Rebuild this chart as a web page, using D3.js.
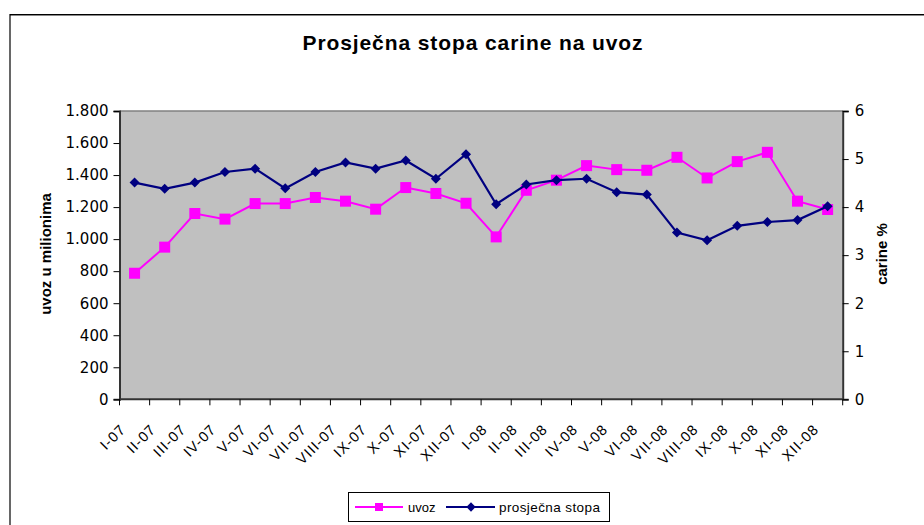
<html>
<head>
  <meta charset="utf-8">
  <title>Prosječna stopa carine na uvoz</title>
  <script src="https://d3js.org/d3.v7.min.js"></script>
  <style>
    body { margin: 0; background: #fff; }
    svg text { font-family: Arial, "Liberation Sans", sans-serif; }
    .tick-num { font-family: "DejaVu Sans", Verdana, sans-serif; font-size: 15px; fill: #000; }
  </style>
</head>
<body>
<script>
  // months on the x axis
  var months = ["I-07","II-07","III-07","IV-07","V-07","VI-07","VII-07","VIII-07","IX-07","X-07","XI-07","XII-07",
                "I-08","II-08","III-08","IV-08","V-08","VI-08","VII-08","VIII-08","IX-08","X-08","XI-08","XII-08"];
  // uvoz, in millions
  var uvoz = [787, 950, 1160, 1125, 1222, 1222, 1260, 1237, 1187, 1322, 1285, 1224,
              1014, 1305, 1368, 1459, 1434, 1430, 1511, 1382, 1484, 1542, 1237, 1185];
  // prosjecna stopa carine, %
  var stopa = [4.51, 4.38, 4.51, 4.73, 4.80, 4.39, 4.73, 4.93, 4.80, 4.97, 4.59, 5.10,
               4.06, 4.47, 4.56, 4.59, 4.31, 4.26, 3.47, 3.31, 3.61, 3.69, 3.73, 4.02];
  var leftTicks = [0, 200, 400, 600, 800, 1000, 1200, 1400, 1600, 1800];
  var rightTicks = [0, 1, 2, 3, 4, 5, 6];

  var width = 924, height = 525;
  var svg = d3.select("body").append("svg")
    .attr("width", width)
    .attr("height", height);

  // outer chart frame (only top and left visible)
  svg.append("line").attr("x1", 10).attr("x2", width).attr("y1", 15.5).attr("y2", 15.5)
    .attr("stroke", "#888").attr("stroke-width", 1);
  svg.append("line").attr("x1", 10).attr("x2", width).attr("y1", 14.5).attr("y2", 14.5)
    .attr("stroke", "#000").attr("stroke-width", 1);
  svg.append("line").attr("x1", 10).attr("x2", 10).attr("y1", 14).attr("y2", height)
    .attr("stroke", "#000").attr("stroke-width", 1.2);

  var pLeft = 119.5, pRight = 842.7, pTop = 111, pBottom = 399.3;

  var x = d3.scaleBand().domain(months).range([pLeft, pRight]);
  var yL = d3.scaleLinear().domain([0, 1800]).range([pBottom, pTop]);
  var yR = d3.scaleLinear().domain([0, 6]).range([pBottom, pTop]);

  // plot area
  svg.append("rect")
    .attr("x", pLeft).attr("y", pTop)
    .attr("width", pRight - pLeft).attr("height", pBottom - pTop)
    .attr("fill", "#c0c0c0");
  svg.append("line").attr("x1", pLeft).attr("x2", pRight).attr("y1", pTop).attr("y2", pTop)
    .attr("stroke", "#808080").attr("stroke-width", 1.5);

  // title
  svg.append("text")
    .attr("x", 473).attr("y", 50)
    .attr("text-anchor", "middle")
    .attr("font-size", "21px").attr("font-weight", "bold")
    .attr("letter-spacing", "0.9px")
    .text("Prosječna stopa carine na uvoz");

  // left axis
  var gl = svg.append("g").attr("transform", "translate(" + pLeft + ",0)")
    .call(d3.axisLeft(yL).tickValues(leftTicks).tickSize(6).tickPadding(5)
      .tickFormat(function(d) { return d3.format(",")(d).replace(/,/g, "."); }));
  gl.selectAll("text").attr("class", "tick-num");

  // right axis
  var gr = svg.append("g").attr("transform", "translate(" + pRight + ",0)")
    .call(d3.axisRight(yR).tickValues(rightTicks).tickSize(6).tickPadding(6)
      .tickFormat(d3.format("d")));
  gr.selectAll("text").attr("class", "tick-num");

  // bottom axis: ticks between categories
  var gb = svg.append("g").attr("transform", "translate(0," + pBottom + ")");
  gb.append("line").attr("x1", pLeft).attr("x2", pRight).attr("stroke", "#333").attr("stroke-width", 2);
  gb.selectAll(".xt").data(months.concat(["end"]))
    .enter().append("line")
    .attr("x1", function(d, i) { return pLeft + i * x.step(); })
    .attr("x2", function(d, i) { return pLeft + i * x.step(); })
    .attr("y1", 0).attr("y2", 6)
    .attr("stroke", "#000");
  gb.selectAll(".xl").data(months)
    .enter().append("text")
    .attr("transform", function(d) {
      return "translate(" + (x(d) + x.bandwidth() / 2 - 8) + ",31) rotate(-45)";
    })
    .attr("text-anchor", "end")
    .attr("font-size", "14.5px")
    .attr("letter-spacing", "1px")
    .text(function(d) { return d; });

  [gl, gr].forEach(function(g) {
    g.select(".domain").attr("stroke", "#333").attr("stroke-width", 2);
    g.selectAll(".tick line").attr("stroke", "#000");
  });

  // axis titles
  svg.append("text")
    .attr("transform", "translate(51,254) rotate(-90)")
    .attr("text-anchor", "middle")
    .attr("font-size", "15px").attr("font-weight", "bold")
    .text("uvoz u milionima");
  svg.append("text")
    .attr("transform", "translate(887,254) rotate(-90)")
    .attr("text-anchor", "middle")
    .attr("font-size", "15px").attr("font-weight", "bold")
    .text("carine %");

  var cx = function(d, i) { return x(months[i]) + x.bandwidth() / 2; };

  // uvoz line + squares
  var lineL = d3.line().x(cx).y(function(d) { return yL(d); });
  svg.append("path").datum(uvoz)
    .attr("d", lineL).attr("fill", "none")
    .attr("stroke", "#ff00ff").attr("stroke-width", 2);
  svg.selectAll(".sq").data(uvoz).enter().append("rect")
    .attr("x", function(d, i) { return cx(d, i) - 5.5; })
    .attr("y", function(d) { return yL(d) - 5.5; })
    .attr("width", 11).attr("height", 11)
    .attr("fill", "#ff00ff");

  // stopa line + diamonds
  var lineR = d3.line().x(cx).y(function(d) { return yR(d); });
  svg.append("path").datum(stopa)
    .attr("d", lineR).attr("fill", "none")
    .attr("stroke", "#000080").attr("stroke-width", 2.2);
  var diamond = d3.symbol().type(d3.symbolDiamond2).size(64);
  svg.selectAll(".dm").data(stopa).enter().append("path")
    .attr("d", diamond)
    .attr("transform", function(d, i) { return "translate(" + cx(d, i) + "," + yR(d) + ")"; })
    .attr("fill", "#000080");

  // legend
  var lg = svg.append("g");
  lg.append("rect").attr("x", 348.5).attr("y", 492.5).attr("width", 261).attr("height", 29)
    .attr("fill", "#fff").attr("stroke", "#000");
  lg.append("line").attr("x1", 355).attr("x2", 403).attr("y1", 507).attr("y2", 507)
    .attr("stroke", "#ff00ff").attr("stroke-width", 2);
  lg.append("rect").attr("x", 375).attr("y", 503).attr("width", 8).attr("height", 8).attr("fill", "#ff00ff");
  lg.append("text").attr("x", 408).attr("y", 512).attr("font-size", "13px").text("uvoz");
  lg.append("line").attr("x1", 446).attr("x2", 495).attr("y1", 507).attr("y2", 507)
    .attr("stroke", "#000080").attr("stroke-width", 2);
  lg.append("path").attr("d", d3.symbol().type(d3.symbolDiamond2).size(55))
    .attr("transform", "translate(471,507)").attr("fill", "#000080");
  lg.append("text").attr("x", 499).attr("y", 512).attr("font-size", "13.5px")
    .attr("letter-spacing", "0.4px").text("prosječna stopa");
</script>
</body>
</html>
